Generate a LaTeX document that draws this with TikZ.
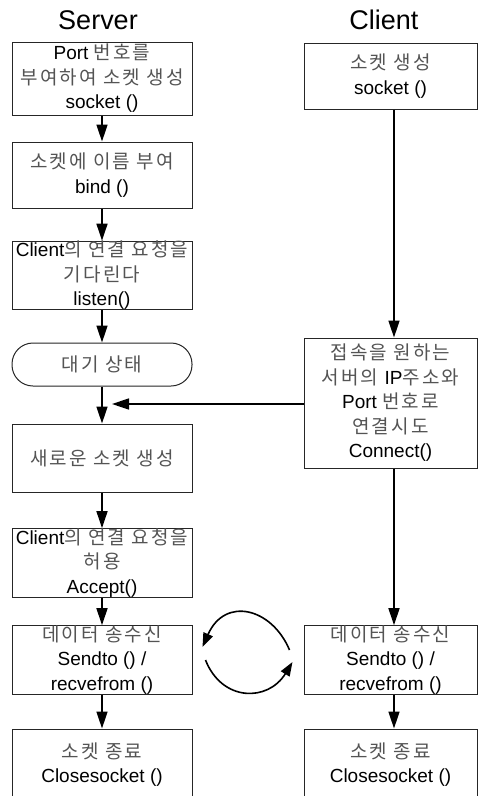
\documentclass[tikz,border=0pt]{standalone}
\usepackage{fontspec}
\setmainfont{Liberation Sans}
\newfontfamily\krfont{Noto Sans CJK KR}[LetterSpace=11]
\usetikzlibrary{arrows.meta}
\definecolor{kgray}{gray}{0.33}
\newcommand{\kor}[1]{{\krfont\color{kgray}#1}}
\tikzset{
  stepbox/.style={draw=black!85, line width=1pt, align=center, inner sep=0pt,
    font=\fontsize{19}{24.5}\selectfont},
  srv/.style={stepbox, minimum width=180pt},
  cli/.style={stepbox, minimum width=173pt},
  waitbox/.style={srv, rounded corners=21pt},
  title/.style={font=\fontsize{27}{30}\selectfont},
  flow/.style={line width=1.6pt, -{Triangle[length=17pt,width=11pt]}},
  swap/.style={line width=1.6pt, -{Triangle[length=14pt,width=10pt]}},
}
\begin{document}
\begin{tikzpicture}[x=1pt, y=-1pt]
  \clip (0,0) rectangle (478,796);
  \fill[white] (0,0) rectangle (478,796);

  % column titles
  \node[title] (tS) at (98,20) {Server};
  \node[title] (tC) at (384,20) {Client};

  % server side
  \node[srv, minimum height=73pt] (s1) at (102,78.5)
    {Port \kor{번호를}\\\kor{부여하여 소켓 생성}\\socket ()};
  \node[srv, minimum height=66pt] (s2) at (102,175)
    {\kor{소켓에 이름 부여}\\bind ()};
  \node[srv, minimum height=67pt] (s3) at (102,275.5)
    {Client\kor{의 연결 요청을}\\\kor{기다린다}\\listen()};
  \node[waitbox, minimum height=43pt] (s4) at (102,364.5)
    {\kor{대기 상태}};
  \node[srv, minimum height=68pt] (s5) at (102,458)
    {\kor{새로운 소켓 생성}};
  \node[srv, minimum height=68pt] (s6) at (102,563)
    {Client\kor{의 연결 요청을}\\\kor{허용}\\Accept()};
  \node[srv, minimum height=66pt] (s7) at (102,660)
    {\kor{데이터 송수신}\\Sendto () /\\recvefrom ()};
  \node[srv, minimum height=71pt] (s8) at (102,764.5)
    {\kor{소켓 종료}\\Closesocket ()};

  % client side
  \node[cli, minimum height=66pt] (c1) at (390.5,76)
    {\kor{소켓 생성}\\socket ()};
  \node[cli, minimum height=130pt] (c2) at (390.5,403)
    {\kor{접속을 원하는}\\\kor{서버의 }IP\kor{주소와}\\Port \kor{번호로}\\\kor{연결시도}\\Connect()};
  \node[cli, minimum height=66pt] (c3) at (390.5,660)
    {\kor{데이터 송수신}\\Sendto () /\\recvefrom ()};
  \node[cli, minimum height=71pt] (c4) at (390.5,764.5)
    {\kor{소켓 종료}\\Closesocket ()};

  % server flow
  \draw[flow] (s1) -- (s2);
  \draw[flow] (s2) -- (s3);
  \draw[flow] (s3) -- (s4);
  \draw[flow] (s4) -- (s5);
  \draw[flow] (s5) -- (s6);
  \draw[flow] (s6) -- (s7);
  \draw[flow] (s7) -- (s8);

  % client flow
  \draw[flow] ([xshift=3.5pt]c1.south) -- ([xshift=3.5pt]c2.north);
  \draw[flow] ([xshift=3.5pt]c2.south) -- ([xshift=3.5pt]c3.north);
  \draw[flow] ([xshift=3.5pt]c3.south) -- ([xshift=3.5pt]c4.north);

  % connection request joins the server flow
  \coordinate (join) at (112,404);
  \draw[flow] (c2.west |- join) -- (join);

  % data exchange between the two sides
  \draw[swap] ([shift={(-14,-10)}]c3.west)
    .. controls (272,608) and (225,596) .. ([shift={(10,-13)}]s7.east);
  \draw[swap] ([shift={(13,0)}]s7.east)
    .. controls (222,702) and (268,702) .. ([shift={(-11,2)}]c3.west);
\end{tikzpicture}
\end{document}
